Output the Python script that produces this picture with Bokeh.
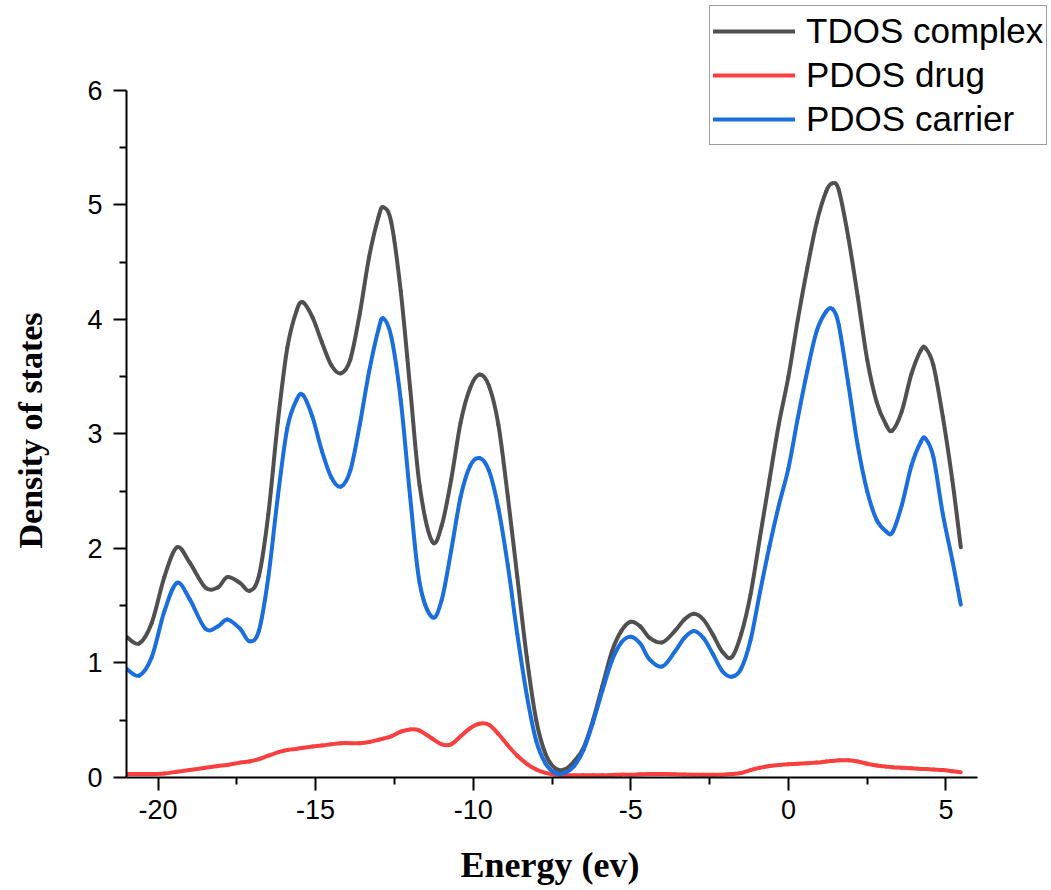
from bokeh.plotting import figure
from bokeh.models import ColumnDataSource, Legend, LegendItem, FixedTicker, Range1d, Title
from bokeh.embed import file_html
from bokeh.resources import INLINE

# ---- data ----
energy = [-21.0, -20.6, -20.2, -19.8, -19.4, -19.0, -18.5, -18.1, -17.8, -17.4,
          -17.1, -16.8, -16.5, -16.2, -15.9, -15.6, -15.4, -15.1, -14.8, -14.5,
          -14.2, -13.9, -13.6, -13.3, -13.0, -12.85, -12.6, -12.3, -12.0, -11.7,
          -11.3, -11.0, -10.7, -10.4, -10.1, -9.8, -9.5, -9.2, -8.9, -8.6,
          -8.3, -8.0, -7.7, -7.4, -7.1, -6.8, -6.5, -6.2, -5.9, -5.6,
          -5.3, -5.0, -4.7, -4.4, -4.0, -3.6, -3.3, -3.0, -2.7, -2.4,
          -2.1, -1.8, -1.5, -1.2, -0.9, -0.6, -0.3, 0.0, 0.3, 0.6,
          0.9, 1.2, 1.4, 1.6, 1.9, 2.2, 2.5, 2.8, 3.1, 3.3,
          3.6, 3.9, 4.2, 4.35, 4.6, 4.9, 5.2, 5.47]

tdos_complex = [1.23, 1.17, 1.35, 1.75, 2.01, 1.88, 1.66, 1.66, 1.75, 1.70,
                1.63, 1.76, 2.30, 3.10, 3.75, 4.08, 4.15, 4.02, 3.80, 3.60,
                3.53, 3.65, 4.05, 4.55, 4.90, 4.98, 4.85, 4.25, 3.40, 2.55,
                2.06, 2.20, 2.60, 3.10, 3.40, 3.52, 3.42, 3.08, 2.45, 1.75,
                1.05, 0.50, 0.20, 0.08, 0.07, 0.14, 0.26, 0.50, 0.80, 1.10,
                1.28, 1.36, 1.32, 1.22, 1.18, 1.28, 1.38, 1.43, 1.38, 1.25,
                1.10, 1.05, 1.25, 1.60, 2.10, 2.60, 3.09, 3.50, 4.00, 4.45,
                4.85, 5.12, 5.19, 5.13, 4.72, 4.20, 3.65, 3.28, 3.08, 3.03,
                3.20, 3.52, 3.73, 3.75, 3.60, 3.15, 2.60, 2.01]

pdos_drug = [0.03, 0.03, 0.03, 0.035, 0.05, 0.065, 0.085, 0.10, 0.11, 0.13,
             0.14, 0.16, 0.19, 0.22, 0.24, 0.25, 0.26, 0.27, 0.28, 0.29,
             0.30, 0.30, 0.30, 0.31, 0.33, 0.34, 0.36, 0.40, 0.42, 0.41,
             0.34, 0.29, 0.29, 0.36, 0.43, 0.47, 0.46, 0.38, 0.28, 0.19,
             0.12, 0.07, 0.04, 0.025, 0.02, 0.02, 0.02, 0.02, 0.02, 0.022,
             0.025, 0.025, 0.028, 0.03, 0.03, 0.028, 0.026, 0.025, 0.025, 0.025,
             0.025, 0.03, 0.04, 0.065, 0.085, 0.10, 0.11, 0.115, 0.12, 0.125,
             0.13, 0.14, 0.145, 0.15, 0.15, 0.14, 0.12, 0.105, 0.095, 0.09,
             0.085, 0.08, 0.075, 0.075, 0.07, 0.065, 0.055, 0.045]

pdos_carrier = [0.95, 0.89, 1.05, 1.45, 1.70, 1.56, 1.30, 1.32, 1.38, 1.30,
                1.19, 1.28, 1.75, 2.45, 3.05, 3.30, 3.34, 3.15, 2.85, 2.62,
                2.54, 2.68, 3.08, 3.55, 3.92, 4.01, 3.85, 3.30, 2.45, 1.70,
                1.40, 1.55, 1.98, 2.45, 2.72, 2.79, 2.68, 2.35, 1.85, 1.25,
                0.72, 0.32, 0.12, 0.04, 0.04, 0.10, 0.24, 0.48, 0.76, 1.02,
                1.18, 1.23, 1.17, 1.03, 0.97, 1.10, 1.22, 1.28, 1.22, 1.08,
                0.93, 0.88, 0.95, 1.20, 1.62, 2.02, 2.38, 2.70, 3.14, 3.55,
                3.90, 4.07, 4.09, 3.95, 3.44, 2.90, 2.50, 2.25, 2.15, 2.14,
                2.38, 2.72, 2.93, 2.96, 2.80, 2.30, 1.90, 1.51]

series_names = ["TDOS complex", "PDOS drug", "PDOS carrier"]
x_label = "Energy (ev)"
y_label = "Density of states"
x_ticks = [-20, -15, -10, -5, 0, 5]
x_tick_labels = ["-20", "-15", "-10", "-5", "0", "5"]
x_minor = [-17.5, -12.5, -7.5, -2.5, 2.5]
y_ticks = [0, 1, 2, 3, 4, 5, 6]
y_minor = [0.5, 1.5, 2.5, 3.5, 4.5, 5.5]


def smooth_segments(xs, ys):
    """Catmull-Rom -> cubic Bezier segments through the data points."""
    n = len(xs)
    d = dict(x0=[], y0=[], x1=[], y1=[], cx0=[], cy0=[], cx1=[], cy1=[])
    for i in range(n - 1):
        i0 = max(i - 1, 0)
        i3 = min(i + 2, n - 1)
        d["x0"].append(xs[i]); d["y0"].append(ys[i])
        d["x1"].append(xs[i + 1]); d["y1"].append(ys[i + 1])
        d["cx0"].append(xs[i] + (xs[i + 1] - xs[i0]) / 6.0)
        d["cy0"].append(ys[i] + (ys[i + 1] - ys[i0]) / 6.0)
        d["cx1"].append(xs[i + 1] - (xs[i3] - xs[i]) / 6.0)
        d["cy1"].append(ys[i + 1] - (ys[i3] - ys[i]) / 6.0)
    return ColumnDataSource(d)


p = figure(width=1050, height=889, output_backend="svg", toolbar_location=None,
           title=None,
           x_range=Range1d(-21, 8.316), y_range=Range1d(0, 6.786),
           min_border_left=126, min_border_top=0, min_border_right=0,
           min_border_bottom=112)
p.outline_line_color = None
p.xgrid.visible = False
p.ygrid.visible = False
p.background_fill_color = "white"
p.border_fill_color = "white"

colors = ["#505050", "#f7403f", "#1a6ede"]
renderers = []
for ys, col in zip([tdos_complex, pdos_drug, pdos_carrier], colors):
    r = p.bezier(x0="x0", y0="y0", x1="x1", y1="y1", cx0="cx0", cy0="cy0",
                 cx1="cx1", cy1="cy1", source=smooth_segments(energy, ys),
                 line_color=col, line_width=4, line_cap="round")
    renderers.append(r)

for ax in (p.xaxis[0], p.yaxis[0]):
    ax.axis_line_width = 2
    ax.axis_line_color = "black"
    ax.major_tick_line_width = 2
    ax.minor_tick_line_width = 2
    ax.major_tick_line_color = "black"
    ax.minor_tick_line_color = "black"
    ax.major_tick_in = 0
    ax.major_tick_out = 13
    ax.minor_tick_in = 0
    ax.minor_tick_out = 7
    ax.major_label_text_font = "Liberation Sans"
    ax.major_label_text_font_size = "27px"
    ax.major_label_text_color = "black"
    # spacer only: widens the axis panel so the titles sit where they should
    ax.axis_label = " "
    ax.axis_label_text_font_size = "1px"

p.xaxis[0].ticker = FixedTicker(ticks=x_ticks, minor_ticks=x_minor)
p.yaxis[0].ticker = FixedTicker(ticks=y_ticks, minor_ticks=y_minor)
p.xaxis[0].major_label_overrides = dict(zip(x_ticks, x_tick_labels))
p.xaxis[0].bounds = (-21, 6)
p.yaxis[0].bounds = (0, 6)
p.xaxis[0].major_label_standoff = 9
p.yaxis[0].major_label_standoff = 11
p.xaxis[0].axis_label_standoff = 16
p.yaxis[0].axis_label_standoff = 31

# axis titles, positioned along the axis bounds (frame is larger than the axes)
x_title = Title(text=x_label, align="left", offset=334, standoff=2,
                text_font="Liberation Serif", text_font_style="bold",
                text_font_size="36px", text_color="black")
y_title = Title(text=y_label, align="left", offset=229, standoff=2,
                text_font="Liberation Serif", text_font_style="bold",
                text_font_size="34px", text_color="black")
p.add_layout(x_title, "below")
p.add_layout(y_title, "left")

legend = Legend(items=[LegendItem(label=series_names[i], renderers=[renderers[i]])
                       for i in range(3)],
                location=(583, 632), orientation="vertical",
                glyph_width=82, glyph_height=44, label_standoff=11,
                padding=3, spacing=0, margin=0,
                label_text_font="Liberation Sans", label_text_font_size="35px",
                label_text_color="black",
                border_line_color="#3a3a3a", border_line_width=1.5,
                background_fill_color="white", background_fill_alpha=1.0)
p.add_layout(legend, "center")

open("out.html", "w").write(file_html(p, INLINE))
